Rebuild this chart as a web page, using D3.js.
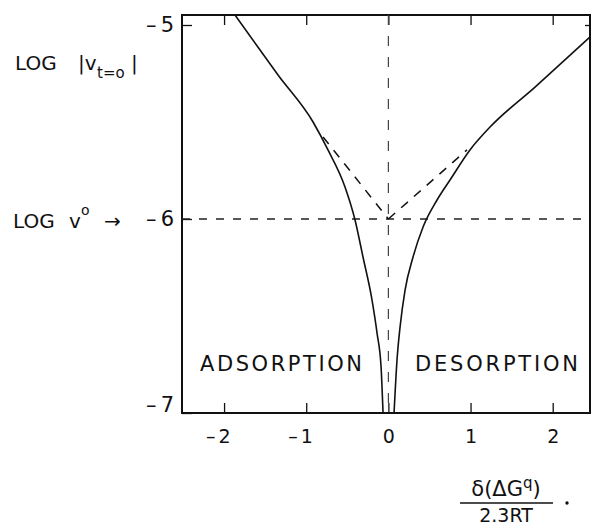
<!DOCTYPE html>
<html>
<head>
<meta charset="utf-8">
<script src="https://cdn.jsdelivr.net/npm/d3@7"></script>
<style>
  body { margin: 0; background: #fff; }
  svg text { font-family: "DejaVu Sans", sans-serif; fill: #111; }
</style>
</head>
<body>
<div class="container"></div>
<script>
// values
var xTicks = [-2, -1, 0, 1, 2];
var yTicks = [-5, -6, -7];
var logV0 = -6;

// solid curve, adsorption side (x < 0)
var adsorption = [
  [-1.867, -4.948], [-1.562, -5.129], [-1.343, -5.258], [-0.917, -5.500],
  [-0.735, -5.644], [-0.528, -5.835], [-0.406, -6.005], [-0.309, -6.196],
  [-0.199, -6.418], [-0.138, -6.588], [-0.089, -6.763], [-0.065, -7.0]
];
// solid curve, desorption side (x > 0)
var desorption = [
  [0.069, -7.0], [0.105, -6.727], [0.142, -6.557], [0.203, -6.366],
  [0.300, -6.196], [0.422, -6.041], [0.592, -5.902], [0.750, -5.799],
  [0.993, -5.644], [1.237, -5.526], [1.785, -5.320], [2.454, -5.062]
];
// dashed asymptotes meeting at log v0
var asymLeft = [[-0.795, -5.577], [0, -6]];
var asymRight = [[0, -6], [0.956, -5.644]];

const WIDTH = 592;
const HEIGHT = 526;
const LEFT = 182, RIGHT = 590, TOP = 15, BOTTOM = 413;

var svg = d3.select(".container").append("svg")
  .attr("width", WIDTH)
  .attr("height", HEIGHT);

var x = d3.scaleLinear().domain([-2.512, 2.454]).range([LEFT, RIGHT]);
var y = d3.scaleLinear().domain([-7, -5]).range([BOTTOM, 25]);

// frame
svg.append("rect")
  .attr("x", LEFT).attr("y", TOP)
  .attr("width", RIGHT - LEFT).attr("height", BOTTOM - TOP)
  .attr("fill", "none").attr("stroke", "#111").attr("stroke-width", 2);

// bottom axis, ticks inward
var gBottom = svg.append("g")
  .attr("transform", "translate(0," + BOTTOM + ")")
  .call(d3.axisBottom(x).tickValues(xTicks).tickSizeInner(-10).tickSizeOuter(0)
    .tickPadding(17).tickFormat(function(d){ return Math.abs(d); }));
gBottom.select(".domain").remove();
gBottom.selectAll("line").attr("stroke", "#111").attr("stroke-width", 1.3);
gBottom.selectAll("text").attr("font-size", 19).attr("fill", "#111")
  .style("font-family", "DejaVu Sans");
gBottom.selectAll(".tick").filter(function(d){ return d < 0; })
  .append("text")
  .attr("x", -9).attr("y", 17).attr("dy", "0.71em")
  .attr("text-anchor", "end").attr("font-size", 19).attr("fill", "#111")
  .style("font-family", "DejaVu Sans")
  .text("\u2013");

// top axis, ticks inward, no labels
var gTop = svg.append("g")
  .attr("transform", "translate(0," + TOP + ")")
  .call(d3.axisTop(x).tickValues(xTicks).tickSizeInner(-10).tickSizeOuter(0).tickFormat(""));
gTop.select(".domain").remove();
gTop.selectAll("line").attr("stroke", "#111").attr("stroke-width", 1.3);

// left axis
var gLeft = svg.append("g")
  .attr("transform", "translate(" + LEFT + ",0)")
  .call(d3.axisLeft(y).tickValues(yTicks).tickSizeInner(-10).tickSizeOuter(0)
    .tickPadding(8).tickFormat(function(d){ return "\u2013\u2009" + Math.abs(d); }));
gLeft.select(".domain").remove();
gLeft.selectAll("line").attr("stroke", "#111").attr("stroke-width", 1.3);
gLeft.selectAll("text").attr("font-size", 21).attr("fill", "#111")
  .style("font-family", "DejaVu Sans");
gLeft.selectAll(".tick").filter(function(d){ return d === -7; })
  .select("text").attr("y", -8);

// right axis, one small tick at -5
var gRight = svg.append("g")
  .attr("transform", "translate(" + RIGHT + ",0)")
  .call(d3.axisRight(y).tickValues([-5]).tickSizeInner(-5).tickSizeOuter(0).tickFormat(""));
gRight.select(".domain").remove();
gRight.selectAll("line").attr("stroke", "#111").attr("stroke-width", 1.3);

// dashed reference lines
svg.append("line")
  .attr("x1", LEFT).attr("x2", RIGHT)
  .attr("y1", y(logV0)).attr("y2", y(logV0))
  .attr("stroke", "#222").attr("stroke-width", 1.4)
  .attr("stroke-dasharray", "8,9");
svg.append("line")
  .attr("x1", x(0)).attr("x2", x(0))
  .attr("y1", TOP).attr("y2", BOTTOM)
  .attr("stroke", "#444").attr("stroke-width", 1.2)
  .attr("stroke-dasharray", "10,11");

var line = d3.line()
  .x(function(d){ return x(d[0]); })
  .y(function(d){ return y(d[1]); });

var smooth = d3.line()
  .x(function(d){ return x(d[0]); })
  .y(function(d){ return y(d[1]); })
  .curve(d3.curveMonotoneX);

[asymLeft, asymRight].forEach(function(a){
  svg.append("path").attr("d", line(a))
    .attr("fill", "none").attr("stroke", "#111").attr("stroke-width", 1.5)
    .attr("stroke-dasharray", "9,8");
});

[adsorption, desorption].forEach(function(c){
  svg.append("path").attr("d", smooth(c))
    .attr("fill", "none").attr("stroke", "#111").attr("stroke-width", 1.6);
});

// region labels
svg.append("text").attr("x", 200).attr("y", 371)
  .attr("font-size", 21).attr("textLength", 162).attr("lengthAdjust", "spacing")
  .text("ADSORPTION");
svg.append("text").attr("x", 415).attr("y", 371)
  .attr("font-size", 21).attr("textLength", 163).attr("lengthAdjust", "spacing")
  .text("DESORPTION");

// y-axis title: LOG |v t=0|
var t1 = svg.append("text").attr("y", 70).attr("font-size", 20);
t1.append("tspan").attr("x", 15).text("LOG");
t1.append("tspan").attr("x", 78).text("|v");
t1.append("tspan").attr("x", 97).attr("y", 78).attr("font-size", 15).text("t=o");
t1.append("tspan").attr("x", 131).attr("y", 70).text("|");

// LOG v0 arrow
var t2 = svg.append("text").attr("y", 228).attr("font-size", 20);
t2.append("tspan").attr("x", 13).text("LOG");
t2.append("tspan").attr("x", 69).text("v");
t2.append("tspan").attr("x", 81).attr("y", 215).attr("font-size", 14).text("o");
t2.append("tspan").attr("x", 104).attr("y", 228).text("\u2192");

// x-axis title as a fraction
var num = svg.append("text").attr("x", 506).attr("y", 496)
  .attr("text-anchor", "middle").attr("font-size", 21);
num.append("tspan").text("\u03b4(\u0394G");
num.append("tspan").attr("dy", -8).attr("font-size", 15).text("q");
num.append("tspan").attr("dy", 8).text(")");
svg.append("line").attr("x1", 460).attr("x2", 553).attr("y1", 503).attr("y2", 503)
  .attr("stroke", "#111").attr("stroke-width", 1.5);
svg.append("text").attr("x", 506).attr("y", 522)
  .attr("text-anchor", "middle").attr("font-size", 19).text("2.3RT");
svg.append("circle").attr("cx", 567).attr("cy", 503).attr("r", 1.7).attr("fill", "#111");
</script>
</body>
</html>
